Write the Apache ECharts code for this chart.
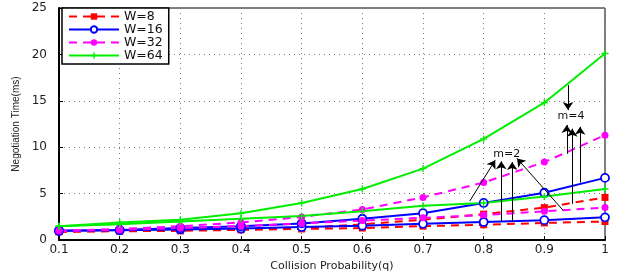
<!DOCTYPE html>
<html>
<head>
    <meta charset="utf-8" />
    <script src="https://cdn.jsdelivr.net/npm/echarts@6/dist/echarts.min.js"></script>
    <style>
        body { margin: 0; background: #fff; }
        #main { width: 619px; height: 277px; }
    </style>
</head>
<body>
    <div id="main"></div>
    <script type="text/javascript">
        // collision probability q
        var qValues = [0.1, 0.2, 0.3, 0.4, 0.5, 0.6, 0.7, 0.8, 0.9, 1.0];
        // negotiation time (ms), m=2 and m=4 for each W
        var w8m2 = [0.9, 0.95, 1.0, 1.1, 1.2, 1.3, 1.5, 1.65, 1.85, 2.0];
        var w8m4 = [0.9, 1.0, 1.1, 1.2, 1.3, 1.7, 2.2, 2.8, 3.5, 4.6];
        var w16m2 = [1.0, 1.05, 1.15, 1.25, 1.4, 1.55, 1.75, 1.95, 2.15, 2.45];
        var w16m4 = [1.0, 1.1, 1.3, 1.5, 1.8, 2.3, 2.9, 4.0, 5.1, 6.7];
        var w32m2 = [1.0, 1.1, 1.3, 1.5, 1.8, 2.1, 2.4, 2.7, 3.1, 3.5];
        var w32m4 = [1.0, 1.2, 1.5, 1.9, 2.5, 3.3, 4.6, 6.2, 8.4, 11.3];
        var w64m2 = [1.5, 1.7, 2.0, 2.3, 2.6, 3.1, 3.7, 4.0, 4.7, 5.5];
        var w64m4 = [1.5, 1.9, 2.2, 2.9, 4.0, 5.5, 7.7, 10.9, 14.8, 20.1];
        var legendNames = ['W=8', 'W=16', 'W=32', 'W=64'];

        // annotation arrows [x0, y0, x1, y1] in data units
        var arrowsM4 = [
            [0.939, 16.7, 0.939, 14.0],
            [0.937, 9.3, 0.937, 12.4],
            [0.946, 3.9, 0.946, 12.0],
            [0.959, 6.2, 0.959, 12.2]
        ];
        var arrowsM2 = [
            [0.777, 4.2, 0.819, 8.6],
            [0.829, 2.0, 0.829, 8.5],
            [0.847, 2.0, 0.847, 8.4],
            [0.931, 3.2, 0.855, 8.8]
        ];
        var labelM4 = [0.944, 13.4];
        var labelM2 = [0.838, 9.3];

        function pairs(ys) {
            return qValues.map(function (q, i) { return [q, ys[i]]; });
        }
        function arrowData(list) {
            return list.map(function (a) {
                return [{ coord: [a[0], a[1]] }, { coord: [a[2], a[3]] }];
            });
        }
        function mkSeries(name, ys, color, dashed, symbol, size, filled) {
            return {
                type: 'line', name: name, data: pairs(ys),
                symbol: symbol, symbolSize: size, showAllSymbol: true,
                lineStyle: { color: color, width: 2, type: dashed ? [8, 6] : 'solid' },
                itemStyle: { color: filled ? color : '#fff', borderColor: color, borderWidth: filled ? 0 : 1.8 },
                z: 3
            };
        }

        var plusPath = 'path://M4,0 L6,0 L6,4 L10,4 L10,6 L6,6 L6,10 L4,10 L4,6 L0,6 L0,4 L4,4 Z';
        var axisFont = { fontFamily: 'DejaVu Sans', fontSize: 12, color: '#222' };

        var myChart = echarts.init(document.getElementById('main'));
        var option = {
            animation: false,
            backgroundColor: '#fff',
            grid: { left: 59, right: 14, top: 8, bottom: 30, show: true, borderColor: '#000', borderWidth: 1 },
            legend: {
                data: legendNames,
                left: 62, top: 8, orient: 'vertical',
                itemWidth: 50, itemHeight: 8, itemGap: 0,
                padding: [2, 6, 2, 6],
                backgroundColor: '#fff', borderColor: '#000', borderWidth: 1.5,
                textStyle: { fontFamily: 'DejaVu Sans', fontSize: 12.5, color: '#111', letterSpacing: 1 }
            },
            xAxis: {
                type: 'value', min: 0.1, max: 1, interval: 0.1,
                name: 'Collision Probability(q)', nameLocation: 'middle', nameGap: 19,
                nameTextStyle: { fontFamily: 'DejaVu Sans', fontSize: 11, color: '#222', letterSpacing: 1 },
                axisLine: { lineStyle: { color: '#000', width: 2 } },
                axisTick: { inside: true, length: 4, lineStyle: { color: '#000' } },
                axisLabel: Object.assign({ margin: 4, formatter: function (v) { return v.toFixed(1).replace('1.0', '1'); } }, axisFont),
                splitLine: { show: true, lineStyle: { type: [1, 4], color: '#777' } }
            },
            yAxis: {
                type: 'value', min: 0, max: 25, interval: 5,
                name: 'Negotiation Time(ms)', nameLocation: 'middle', nameGap: 36,
                nameTextStyle: { fontFamily: 'Liberation Sans Narrow, Liberation Sans', fontSize: 10, color: '#222' },
                axisLine: { lineStyle: { color: '#000', width: 2 } },
                axisTick: { inside: true, length: 4, lineStyle: { color: '#000' } },
                axisLabel: Object.assign({ margin: 12 }, axisFont),
                splitLine: { show: true, lineStyle: { type: [1, 4], color: '#777' } }
            },
            series: [
                mkSeries('W=8', w8m2, '#ff0000', true, 'rect', 7, true),
                mkSeries('W=8', w8m4, '#ff0000', true, 'rect', 7, true),
                mkSeries('W=16', w16m2, '#0000ff', false, 'circle', 8, false),
                mkSeries('W=16', w16m4, '#0000ff', false, 'circle', 8, false),
                mkSeries('W=32', w32m2, '#ff00ff', true, 'circle', 7, true),
                mkSeries('W=32', w32m4, '#ff00ff', true, 'circle', 7, true),
                mkSeries('W=64', w64m2, '#00ee00', false, plusPath, 7, true),
                mkSeries('W=64', w64m4, '#00ee00', false, plusPath, 7, true),
                {
                    type: 'line', name: 'annot', data: [], silent: true, z: 5,
                    markLine: {
                        silent: true, symbol: ['none', 'arrow'], symbolSize: 8,
                        lineStyle: { color: '#000', width: 1, type: 'solid' },
                        label: { show: false },
                        data: arrowData(arrowsM4).concat(arrowData(arrowsM2))
                    },
                    markPoint: {
                        symbol: 'circle', symbolSize: 0,
                        label: { show: true, color: '#111', fontFamily: 'DejaVu Sans', fontSize: 11 },
                        data: [
                            { coord: labelM4, value: 'm=4' },
                            { coord: labelM2, value: 'm=2' }
                        ]
                    }
                }
            ]
        };
        myChart.setOption(option);
    </script>
</body>
</html>
